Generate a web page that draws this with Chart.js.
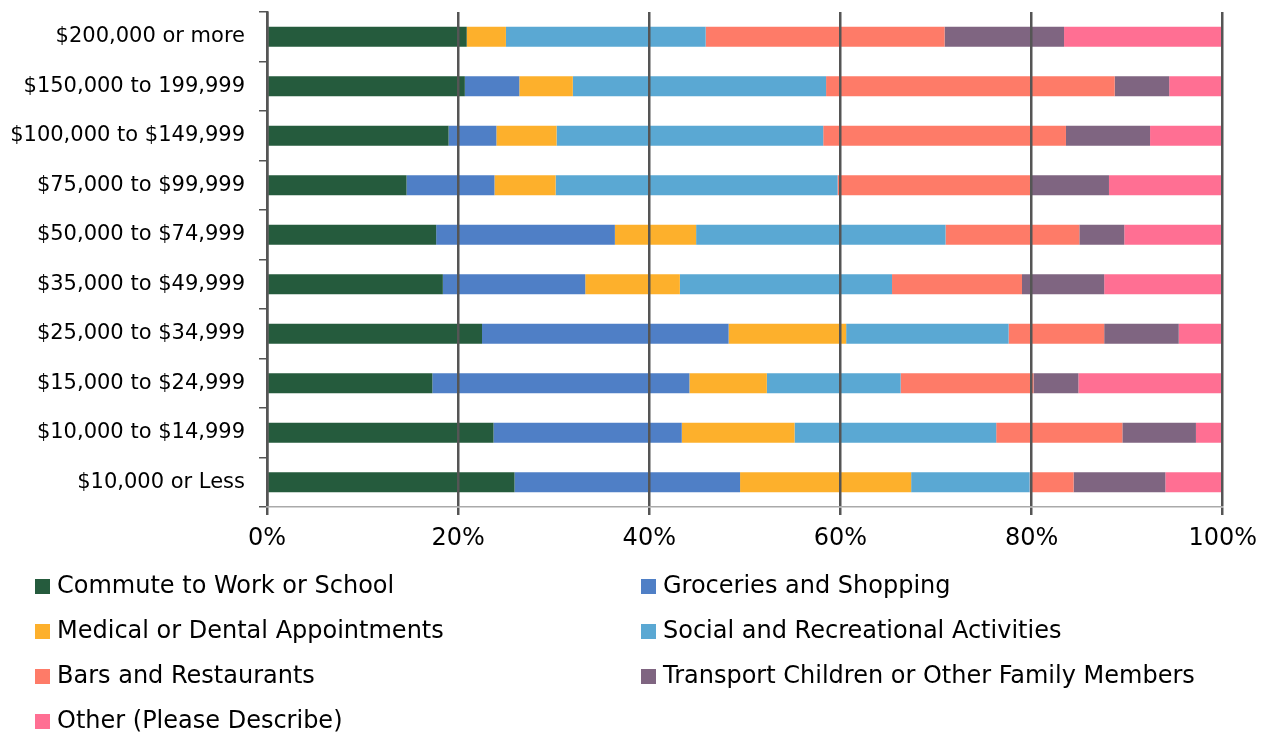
<!DOCTYPE html>
<html>
<head>
<meta charset="utf-8">
<title>Trip purpose by household income</title>
<script src="https://cdn.jsdelivr.net/npm/chart.js@4.4.1/dist/chart.umd.min.js"></script>
<style>
  html, body { margin: 0; padding: 0; background: #fff; }
  #wrap { width: 1266px; height: 734px; position: relative; }
</style>
</head>
<body>
<div id="wrap"><canvas id="myChart"></canvas></div>
<script>
const incomeLabels = [
  "$200,000 or more",
  "$150,000 to 199,999",
  "$100,000 to $149,999",
  "$75,000 to $99,999",
  "$50,000 to $74,999",
  "$35,000 to $49,999",
  "$25,000 to $34,999",
  "$15,000 to $24,999",
  "$10,000 to $14,999",
  "$10,000 or Less",
];

const seriesNames = [
  "Commute to Work or School",
  "Groceries and Shopping",
  "Medical or Dental Appointments",
  "Social and Recreational Activities",
  "Bars and Restaurants",
  "Transport Children or Other Family Members",
  "Other (Please Describe)",
];

// percent of trips, one value per income bracket (top to bottom)
const commute = [20.9, 20.7, 19.0, 14.6, 17.7, 18.4, 22.5, 17.3, 23.7, 25.9];
const groceries = [0, 5.7, 5.0, 9.2, 18.7, 14.9, 25.8, 26.9, 19.7, 23.6];
const medical = [4.1, 5.6, 6.3, 6.4, 8.5, 9.9, 12.3, 8.1, 11.8, 17.9];
const social = [20.9, 26.5, 27.9, 29.5, 26.1, 22.2, 17.0, 14.0, 21.1, 12.4];
const restaurants = [25.0, 30.2, 25.4, 20.2, 14.0, 13.6, 10.0, 13.9, 13.2, 4.6];
const transport = [12.5, 5.7, 8.8, 8.2, 4.7, 8.6, 7.8, 4.7, 7.7, 9.6];
const other = [16.6, 5.6, 7.6, 11.9, 10.3, 12.4, 4.6, 15.1, 2.8, 6.0];

const xTicks = [0, 20, 40, 60, 80, 100];

const seriesColors = [
  "#255b3d",
  "#4f7fc6",
  "#fdb02c",
  "#5aa8d3",
  "#fe7b68",
  "#7f6581",
  "#ff6f93",
];

const fontFamily = "'DejaVu Sans', sans-serif";

// two-column legend drawn under the axis
const columnLegend = {
  id: "columnLegend",
  afterDraw: (chart) => {
    const { ctx, chartArea } = chart;
    const colX = [35, 641];
    const top = chartArea.bottom + 79;
    const rowGap = 45;
    ctx.save();
    ctx.font = `24px ${fontFamily}`;
    ctx.textBaseline = "middle";
    ctx.textAlign = "left";
    chart.data.datasets.forEach((ds, i) => {
      const x = colX[i % 2];
      const y = top + Math.floor(i / 2) * rowGap;
      ctx.fillStyle = ds.backgroundColor;
      ctx.fillRect(x, y - 7, 15, 15);
      ctx.fillStyle = "#000";
      ctx.fillText(ds.label, x + 22, y + 1);
    });
    ctx.restore();
  },
};

const chartData = () => {
  const ctx = document.getElementById("myChart").getContext("2d");
  const values = [commute, groceries, medical, social, restaurants, transport, other];
  const myChart = new Chart(ctx, {
    type: "bar",
    data: {
      labels: incomeLabels,
      datasets: seriesNames.map((name, i) => ({
        label: name,
        data: values[i],
        backgroundColor: seriesColors[i],
        borderWidth: 0,
        categoryPercentage: 1,
        barPercentage: 0.4,
      })),
    },
    options: {
      indexAxis: "y",
      responsive: true,
      maintainAspectRatio: false,
      animation: false,
      layout: {
        padding: { top: 12, right: 43, bottom: 177, left: 0 },
      },
      plugins: {
        legend: { display: false },
        tooltip: { enabled: false },
      },
      scales: {
        x: {
          stacked: true,
          min: 0,
          max: 100,
          afterBuildTicks: (scale) => {
            scale.ticks = xTicks.map((v) => ({ value: v }));
          },
          afterFit: (scale) => {
            scale.height = 50;
          },
          grid: {
            color: "#555",
            lineWidth: 2.5,
            tickLength: 8,
            tickColor: "#555",
            z: 1,
          },
          border: { display: true, color: "#aaa", width: 1.5, z: 2 },
          ticks: {
            padding: 9,
            color: "#000",
            font: { family: fontFamily, size: 24 },
            callback: (v) => `${v}%`,
          },
        },
        y: {
          stacked: true,
          afterFit: (scale) => {
            scale.width = 267;
            // keep the label half-heights from pushing the plot down
            scale.paddingTop = 0;
            scale.paddingBottom = 0;
          },
          grid: {
            offset: true,
            drawOnChartArea: false,
            tickLength: 8,
            color: "#555",
            lineWidth: 1.5,
          },
          border: { display: true, color: "#555", width: 2.5, z: 1 },
          ticks: {
            padding: 14,
            color: "#000",
            font: { family: fontFamily, size: 21 },
          },
        },
      },
    },
    plugins: [columnLegend],
  });
  return myChart;
};

window.onload = chartData();
</script>
</body>
</html>
